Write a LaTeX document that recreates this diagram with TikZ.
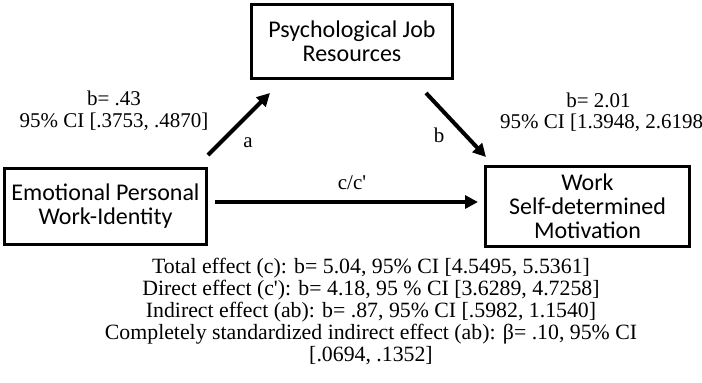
\documentclass[tikz,border=0pt]{standalone}
\usepackage{fontspec}
\setmainfont{Liberation Serif}
\newfontfamily\boxfont{Carlito}
\usetikzlibrary{arrows.meta}
\newcommand{\sq}{\textquotesingle}
\begin{document}
\begin{tikzpicture}[x=1pt,y=-1pt,
  box/.style={draw, line width=3pt, inner sep=0pt, align=center,
    font=\boxfont\fontsize{24}{24}\selectfont},
  arr/.style={line width=4pt, -{Triangle[length=13pt,width=13pt]}},
  lbl/.style={inner sep=0pt, align=center, font=\fontsize{21}{21.7}\selectfont},
  eff/.style={inner sep=0pt, align=center, font=\fontsize{21.8}{22}\selectfont}]
\useasboundingbox (0,0) rectangle (702,383);
\node[box, minimum width=201pt, minimum height=74pt] (top) at (352,41.5) {Psychological Job\\Resources};
\node[box, minimum width=202pt, minimum height=76pt] (left) at (105.5,206.5) {Emotional Personal\\Work-Identity};
\node[box, minimum width=204pt, minimum height=80pt] (right) at (587.5,206.5) {Work\\Self-determined\\Motivation};
\draw[arr] ([shift={(0,-12)}]left.north east) -- ([shift={(20,13)}]top.south west);
\draw[arr] ([shift={(-28,13)}]top.south east) -- ([shift={(2,-8)}]right.north west);
\draw[arr] ([shift={(7,-4.5)}]left.east) -- ([shift={(-6,-4.5)}]right.west);
\node[lbl] (la1) at (114,111) {b= .43\\95\% CI [.3753, .4870]};
\node[lbl] (la) at (248,143) {a};
\node[lbl] (lb) at (439,135) {b};
\node[lbl, anchor=base] (lb1) at (598.5,107) {b= 2.01};
\node[lbl, anchor=base west] (lb2) at (500,128.5) {95\% CI [1.3948, 2.6198};
\node[lbl] (lc) at (352,183) {c/c\sq};
\node[eff] (effects) at (371,311) {Total effect (c): b= 5.04, 95\% CI [4.5495, 5.5361]\\
Direct effect (c\sq): b= 4.18, 95 \% CI [3.6289, 4.7258]\\
Indirect effect (ab): b= .87, 95\% CI [.5982, 1.1540]\\
Completely standardized indirect effect (ab): β= .10, 95\% CI\\
{[.0694, .1352]}};
\end{tikzpicture}
\end{document}
